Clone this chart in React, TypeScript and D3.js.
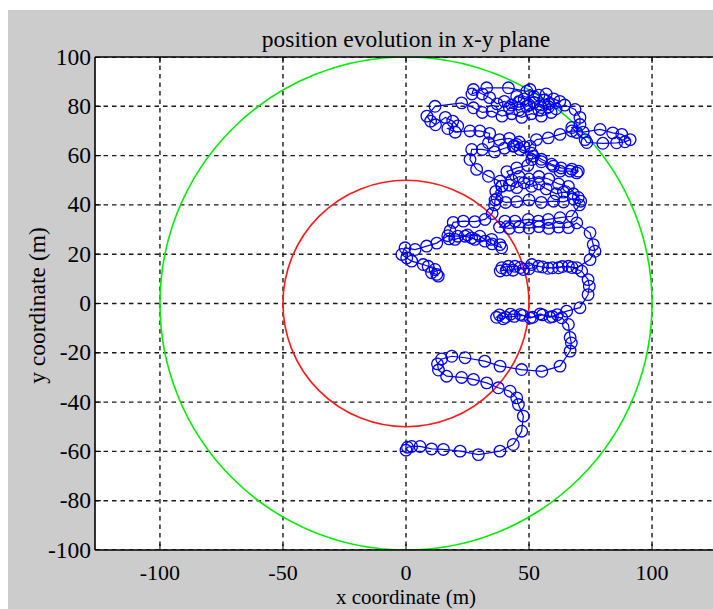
import React from "react";
import * as d3 from "d3";

const W = 713;
const H = 609;

const titleText = "position evolution in x-y plane";
const xLabelText = "x coordinate (m)";
const yLabelText = "y coordinate (m)";

const xTickValues = [-100, -50, 0, 50, 100];
const yTickValues = [-100, -80, -60, -40, -20, 0, 20, 40, 60, 80, 100];

const xDomain = [-126.4, 126.4];
const yDomain = [-100, 100];

const ringRadii = [100, 50];
const ringColors = ["#00ee00", "#ff1a1a"];

// trajectory, in walking order
const trackBottom: [number, number][] = [
  [0, -59.5], [0.6, -58.3], [2.3, -58], [5.7, -58], [10.4, -59], [15.2, -59.2], [22, -59.9],
  [29.4, -61.3], [38.2, -59.9], [43.6, -57.2], [47, -51.8], [47.7, -45.7], [45.7, -41],
  [45, -38.3], [42.3, -35.6], [37.5, -34.2], [32.8, -32.2], [27.4, -30.8], [22.6, -30],
  [16.5, -29.5], [13.2, -27], [12.8, -24.5], [14.5, -22.5], [18.6, -21.4], [24, -22],
  [32, -23.4], [38.2, -25.4], [47, -26.8], [55.2, -27.5], [62.6, -25.4], [66.7, -19.3],
  [67.2, -16], [66.7, -13.8], [66, -8.5], [63.3, -5.8],
];

const trackRowMinus5: [number, number][] = [
  [59.5, -5.3], [55.5, -4.6], [51.5, -5.6], [47.5, -4.8], [44, -5.2], [40.5, -5.6], [38, -4.6],
  [36.8, -5.6], [39.5, -6.2], [42.5, -4.3], [46.5, -4.4], [50.5, -5.9], [54.5, -4.2],
  [58.5, -5.6], [61.5, -4.5], [65.3, -3.1], [70.7, -1.7], [74, 3.6], [74.5, 7], [74, 9.7],
  [71.4, 13.1],
];

const trackRow15: [number, number][] = [
  [67.5, 14.6], [63.5, 15], [59.5, 14.5], [55.5, 14.8], [51.1, 15.8], [47.7, 13.8], [44.3, 15.1],
  [41.6, 15.1], [38.9, 14.5], [38.3, 13.2], [40.8, 13.6], [43.5, 13.5], [46.5, 14.6], [50, 14.1],
  [53.8, 15.1], [57.8, 14.3], [62, 14.5], [66, 15.1], [69.4, 14.5], [74.8, 17.8], [76.8, 21.2],
  [76.1, 23.9], [74.8, 28.7], [69.4, 32.7],
];

const trackRow32: [number, number][] = [
  [66, 30.8], [62, 31], [58, 30.5], [54, 31.2], [50, 30.6], [46, 31], [42, 30.5], [38, 31],
  [40.2, 33.4], [44.3, 33.4], [49.7, 34.1], [53.8, 33.4], [57.8, 34.1], [62.6, 34.8],
  [67.4, 35.4], [70.5, 40], [71, 41.5],
];

const trackMiddle: [number, number][] = [
  [68, 42.5], [64, 41.2], [60, 41.5], [55, 41], [50, 42], [45, 41.3], [40.5, 41], [37, 42.5],
  [36.5, 45.5], [39, 47.6], [42, 48], [45, 47], [48, 49], [51, 47.5], [54, 48.5], [57, 46.5],
  [61, 44.5], [64, 45.2], [68, 44.5], [70, 43], [66, 47.5], [62, 48.5], [58, 50.5], [54, 51.5],
  [50, 50.5], [46, 51.5], [43, 50], [41, 53.5], [45, 55], [49.5, 56], [51.1, 58.4],
  [51.7, 59.8], [55, 57.5], [59.9, 55.7], [62.6, 53.7], [66.7, 53.7], [69.4, 53], [70, 53.7],
  [67.4, 54.5], [63, 55], [59.2, 56.5], [55, 58.5], [51, 61], [46.3, 62.5], [43.6, 63.8],
  [45, 64.5], [48, 63.5], [50.4, 63.8],
];

const trackUpper: [number, number][] = [
  [53, 66.5], [57.8, 67.2], [62.6, 68.6], [67.4, 70], [72, 69.5], [78.9, 70.6], [84, 69.2],
  [87.7, 68.6], [91.1, 66.5], [89, 65.6], [85.6, 65.2], [80, 65], [73.5, 65.3], [72.8, 66.5],
  [69.4, 69.4], [67.4, 71.4], [70.7, 72.6], [70.7, 75.5], [68.7, 78.7], [64.5, 80.5], [61, 79],
  [58, 81], [55, 79.5], [52, 81.5], [49, 80], [46, 82], [43, 80.5], [40, 82], [37, 81],
  [34, 83.5], [31, 85], [27.4, 86.8], [26.8, 85], [32.8, 87.5], [41.6, 87.5], [49.1, 86.1],
  [50.4, 86.8], [54, 84.5], [57, 85], [60, 83], [62.5, 82], [58, 79.8], [54, 78.5],
  [50, 80.5], [46, 78.5], [42, 79.5], [45, 84], [48, 83], [52, 84], [56, 82.5], [59, 77.5],
  [55, 76], [51, 77], [47, 75.5], [43, 77], [39, 76], [35, 78], [31, 77.5], [27.4, 79.4],
  [22.6, 81.4], [11.8, 80], [8.5, 76], [10, 74], [12, 72.5], [16, 75.5], [19, 74], [21, 72],
  [17, 71], [20, 69.5], [26, 70], [30, 70], [34, 69], [33.5, 65.2], [38, 66.5], [42, 67],
  [46, 65.5], [44, 64], [40, 63], [36, 61.5], [31, 62.5], [26.7, 62.5], [26, 58.4],
  [28.7, 54.4], [33.5, 51.6], [38.2, 49.6], [38.9, 47.6], [36.2, 42], [36, 40],
];

const trackLeft: [number, number][] = [
  [35, 36.5], [32.1, 34.1], [28, 33.2], [23.3, 33.4], [19.2, 32.9], [17.9, 29.5], [17.5, 26.2],
  [19.9, 26], [24, 27.3], [26.7, 26.6], [28, 26], [32.1, 25.3], [34.8, 26], [38.2, 23.9],
  [38.9, 22.6], [35, 24.2], [30, 27.3], [25, 27.8], [21, 27.3], [17, 27.5], [12.5, 24.5],
  [8.4, 23.3], [3.7, 21.9], [-0.4, 22.6], [-1.7, 19.9], [0.3, 18.5], [2.3, 17.2], [7, 15.8],
  [9, 15.1], [11.8, 13.8], [10.4, 12.5], [12.5, 11.8], [13.1, 11.1],
];

const track: [number, number][] = [
  ...trackBottom,
  ...trackRowMinus5,
  ...trackRow15,
  ...trackRow32,
  ...trackMiddle,
  ...trackUpper,
  ...trackLeft,
];

export default function App() {
  const left = 95;
  const right = 717;
  const top = 57;
  const bottom = 550;

  const x = d3.scaleLinear().domain(xDomain).range([left, right]);
  const y = d3.scaleLinear().domain(yDomain).range([bottom, top]);

  const line = d3
    .line<[number, number]>()
    .x((d) => x(d[0]))
    .y((d) => y(d[1]));

  const font = "'Liberation Serif', 'Times New Roman', serif";
  const fs = 23.5;
  const tickLen = 6;

  return (
    <svg
      width={W}
      height={H}
      style={{ position: "absolute", left: 0, top: 0, background: "#ffffff" }}
    >
      <defs>
        <clipPath id="plotClip">
          <rect x={left} y={top} width={right - left} height={bottom - top} />
        </clipPath>
      </defs>
      <rect x={8} y={10} width={W - 8} height={H - 10} fill="#cccccc" />
      <rect x={left} y={top} width={right - left} height={bottom - top} fill="#ffffff" />

      <g clipPath="url(#plotClip)">
        {xTickValues.map((v) => (
          <line
            key={"gx" + v}
            x1={x(v)}
            x2={x(v)}
            y1={top}
            y2={bottom}
            stroke="#1a1a1a"
            strokeWidth={1.4}
            strokeDasharray="4.5,4"
          />
        ))}
        {yTickValues.map((v) => (
          <line
            key={"gy" + v}
            x1={left}
            x2={right}
            y1={y(v)}
            y2={y(v)}
            stroke="#1a1a1a"
            strokeWidth={1.4}
            strokeDasharray="4.5,4"
          />
        ))}
        {ringRadii.map((r, i) => (
          <ellipse
            key={"ring" + r}
            cx={x(0)}
            cy={y(0)}
            rx={x(r) - x(0)}
            ry={y(0) - y(r)}
            fill="none"
            stroke={ringColors[i]}
            strokeWidth={1.6}
          />
        ))}
        <path d={line(track) || ""} fill="none" stroke="#0000ff" strokeWidth={1.2} />
        {track.map((d, i) => (
          <circle
            key={"p" + i}
            cx={x(d[0])}
            cy={y(d[1])}
            r={5.8}
            fill="none"
            stroke="#0000ff"
            strokeWidth={1.3}
          />
        ))}
        {xTickValues.map((v) => (
          <g key={"tx" + v}>
            <line x1={x(v)} x2={x(v)} y1={bottom} y2={bottom - tickLen} stroke="#000" />
            <line x1={x(v)} x2={x(v)} y1={top} y2={top + tickLen} stroke="#000" />
          </g>
        ))}
        {yTickValues.map((v) => (
          <line key={"ty" + v} x1={left} x2={left + tickLen} y1={y(v)} y2={y(v)} stroke="#000" />
        ))}
      </g>

      <line x1={left} x2={left} y1={top} y2={bottom} stroke="#000" strokeWidth={1.6} />
      <line x1={left} x2={W} y1={top} y2={top} stroke="#000" strokeWidth={1.6} />
      <line x1={left} x2={W} y1={bottom} y2={bottom} stroke="#000" strokeWidth={1.6} />

      {xTickValues.map((v) => (
        <text
          key={"lx" + v}
          x={x(v)}
          y={580}
          textAnchor="middle"
          fontFamily={font}
          fontSize={22}
          fill="#000"
        >
          {v}
        </text>
      ))}
      {yTickValues.map((v) => (
        <text
          key={"ly" + v}
          x={left - 4}
          y={y(v) + 7.5}
          textAnchor="end"
          fontFamily={font}
          fontSize={fs}
          fill="#000"
        >
          {v}
        </text>
      ))}

      <text x={406} y={47} textAnchor="middle" fontFamily={font} fontSize={fs} fill="#000">
        {titleText}
      </text>
      <text x={406} y={603.5} textAnchor="middle" fontFamily={font} fontSize={21} fill="#000">
        {xLabelText}
      </text>
      <text
        transform={`translate(45, ${(top + bottom) / 2 + 2}) rotate(-90)`}
        textAnchor="middle"
        fontFamily={font}
        fontSize={fs}
        fill="#000"
      >
        {yLabelText}
      </text>
    </svg>
  );
}
